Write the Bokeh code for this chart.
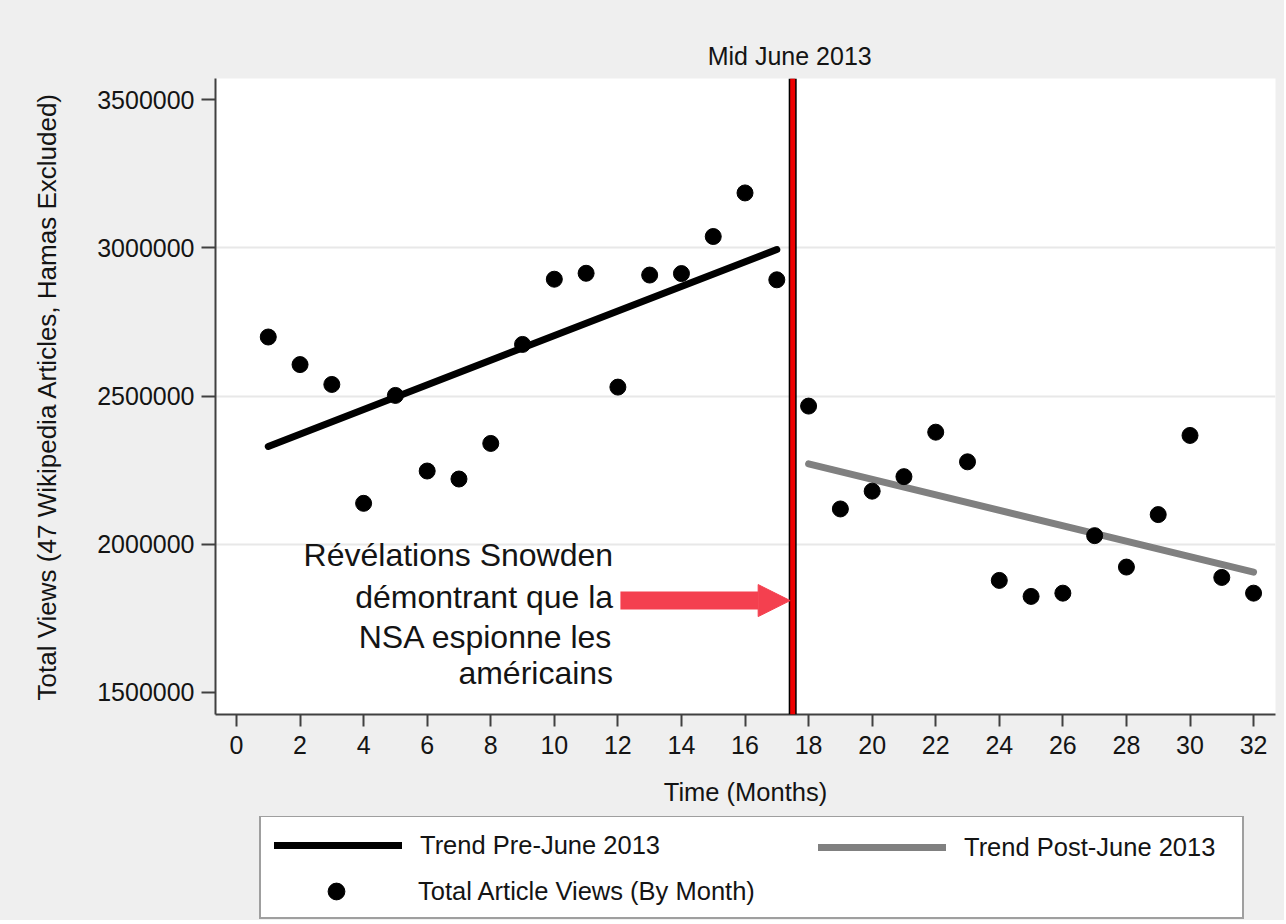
from bokeh.plotting import figure
from bokeh.layouts import column
from bokeh.models import (FixedTicker, NumeralTickFormatter, Span, Label, Arrow, NormalHead,
                          Legend, LegendItem, Range1d)
from bokeh.embed import file_html
from bokeh.resources import INLINE

# ---- data ----
months = list(range(1, 33))
views = [2699000, 2606000, 2539000, 2138000, 2502000, 2247000, 2220000, 2340000,
         2674000, 2894000, 2914000, 2530000, 2908000, 2913000, 3038000, 3185000,
         2892000, 2466000, 2119000, 2179000, 2228000, 2378000, 2278000, 1878000,
         1824000, 1835000, 2029000, 1923000, 2100000, 2367000, 1888000, 1835000]
pre_trend_x = [1, 17]
pre_trend_y = [2330000, 2994000]
post_trend_x = [18, 32]
post_trend_y = [2271000, 1906000]
x_ticks = list(range(0, 33, 2))
y_ticks = [1500000, 2000000, 2500000, 3000000, 3500000]
grid_ticks = [2000000, 2500000, 3000000]
cutoff = 17.5
cutoff_label = "Mid June 2013"
anno_lines = ["Révélations Snowden", "démontrant que la", "NSA espionne les", "américains"]
anno_offsets = [0, -42, -82, -118]
anno_x = 11.85
anno_y = 1964000
arrow_x = [12.08, 17.42]
arrow_y = 1810000
x_start, x_end = -0.66, 32.69
y_start, y_end = 1425700, 3571000
legend_labels = ["Trend Pre-June 2013", "Total Article Views (By Month)", "Trend Post-June 2013"]

FONT = "Liberation Sans"
TXT = "#141414"
AX = "#404040"
BG = "#efefef"
W = 1284
BL, BR, BT, BB = 215, 9, 78, 102
frame_w = W - BL - BR

# title position: centred over the cutoff line
title_px = 25
title_w = 6.56 * title_px
title_offset = (cutoff - x_start) / (x_end - x_start) * frame_w - title_w / 2

p = figure(width=W, height=816,
           x_range=Range1d(x_start, x_end), y_range=Range1d(y_start, y_end),
           output_backend="svg", toolbar_location=None, title=cutoff_label,
           min_border_left=BL, min_border_right=BR, min_border_top=BT, min_border_bottom=BB,
           border_fill_color=BG, background_fill_color="white",
           outline_line_color=None)

p.title.align = "left"
p.title.offset = title_offset - 3
p.title.text_font = FONT
p.title.text_font_size = f"{title_px}px"
p.title.text_font_style = "normal"
p.title.text_color = TXT
p.title.standoff = 17

p.xaxis.ticker = FixedTicker(ticks=x_ticks)
p.yaxis.ticker = FixedTicker(ticks=y_ticks)
p.yaxis.formatter = NumeralTickFormatter(format="0")
p.xgrid.visible = False
p.ygrid.ticker = FixedTicker(ticks=grid_ticks)
p.ygrid.grid_line_color = "#e8e8e8"
p.ygrid.grid_line_width = 2

for ax in (p.xaxis[0], p.yaxis[0]):
    ax.axis_line_color = AX
    ax.axis_line_width = 2
    ax.major_tick_line_color = AX
    ax.major_tick_line_width = 2
    ax.major_tick_in = 0
    ax.minor_tick_line_color = None
    ax.major_label_text_font = FONT
    ax.major_label_text_font_size = "25px"
    ax.major_label_text_color = TXT
    ax.axis_label_text_font = FONT
    ax.axis_label_text_font_style = "normal"
    ax.axis_label_text_color = TXT

p.yaxis.major_tick_out = 14
p.xaxis.major_tick_out = 12
p.yaxis.major_label_standoff = 7
p.xaxis.major_label_standoff = 9
p.yaxis.axis_label = "Total Views (47 Wikipedia Articles, Hamas Excluded)"
p.yaxis.axis_label_text_font_size = "26px"
p.yaxis.axis_label_standoff = 32
p.xaxis.axis_label = "Time (Months)"
p.xaxis.axis_label_text_font_size = "25.5px"
p.xaxis.axis_label_standoff = 21

# cutoff line
p.add_layout(Span(location=cutoff, dimension="height", line_color="black", line_width=8))
p.add_layout(Span(location=cutoff, dimension="height", line_color="#ee0000", line_width=5))

pre = p.line(pre_trend_x, pre_trend_y, line_color="black", line_width=7, line_cap="round")
post = p.line(post_trend_x, post_trend_y, line_color="#808080", line_width=7, line_cap="round")
dots = p.scatter(months, views, size=16, fill_color="black", line_color="black", line_width=1)

for line, off in zip(anno_lines, anno_offsets):
    p.add_layout(Label(x=anno_x, y=anno_y, y_offset=off, text=line, text_align="right",
                       text_baseline="alphabetic", text_font=FONT, text_font_size="32px",
                       text_color=TXT))

arrow_color = "#f4404f"
p.add_layout(Arrow(end=NormalHead(size=32, fill_color=arrow_color, line_color=arrow_color,
                                  line_width=1),
                   x_start=arrow_x[0], y_start=arrow_y, x_end=arrow_x[1], y_end=arrow_y,
                   line_color=arrow_color, line_width=18, line_cap="butt"))

# ---- legend strip (separate panel below the chart; its frame aligns with the chart's) ----
H2 = 104
q = figure(width=W, height=H2, x_range=Range1d(0, 1), y_range=Range1d(0, 1),
           output_backend="svg", toolbar_location=None,
           x_axis_type=None, y_axis_type=None,
           min_border_left=BL, min_border_right=BR, min_border_top=0, min_border_bottom=0,
           border_fill_color=BG, background_fill_color=None, outline_line_color=None)
q.xgrid.visible = False
q.ygrid.visible = False
# legend-key renderers: same data, but outside this strip's (0..1) ranges, so only the keys show
lg_pre = q.line(pre_trend_x, pre_trend_y, line_color="black", line_width=7, line_cap="round")
lg_dots = q.scatter(months, views, size=16, fill_color="black", line_color="black", line_width=1)
lg_post = q.line(post_trend_x, post_trend_y, line_color="#808080", line_width=7, line_cap="round")
lg_blank = q.scatter(months, views, size=16, fill_alpha=0, line_alpha=0)

row = 30
base = dict(label_text_font=FONT, label_text_font_size="25.5px", label_text_color=TXT,
            glyph_width=128, label_standoff=18, margin=0)

# boxed legend: first column (pre-trend row + an empty row kept for the dots entry)
pad = 13
sp = 14
box_left, box_right, box_top = 259, 1240, 3
h1 = 2 * pad + 2 * row + sp
leg1 = Legend(items=[LegendItem(label=legend_labels[0], renderers=[lg_pre]),
                     LegendItem(label=" ", renderers=[lg_blank])],
              location=(box_left - BL, H2 - box_top - h1),
              glyph_height=row, label_height=row, padding=pad, spacing=sp,
              label_width=(box_right - box_left) - 2 * pad - 128 - 18,
              border_line_color="#404040", border_line_width=2,
              background_fill_color="white", background_fill_alpha=1.0, **base)

row1_center = box_top + pad + row / 2
row2_center = row1_center + row + sp

# dots entry (taller key so the marker is as large as the plotted dots); no border -> no padding
dot_row = 42
leg_dots = Legend(items=[LegendItem(label=legend_labels[1], renderers=[lg_dots])],
                  location=(box_left + pad - BL, H2 - (row2_center + dot_row / 2)),
                  glyph_height=dot_row, label_height=dot_row, padding=0, spacing=0,
                  border_line_color=None, background_fill_alpha=0.0, **base)

# second column: post-trend entry
leg2 = Legend(items=[LegendItem(label=legend_labels[2], renderers=[lg_post])],
              location=(818 - BL, H2 - (row1_center + row / 2)),
              glyph_height=row, label_height=row, padding=0, spacing=0,
              border_line_color=None, background_fill_alpha=0.0, **base)
q.add_layout(leg1, "center")
q.add_layout(leg_dots, "center")
q.add_layout(leg2, "center")

page = column(p, q, spacing=0, styles={"background-color": BG})
open("out.html", "w").write(file_html(page, INLINE))
